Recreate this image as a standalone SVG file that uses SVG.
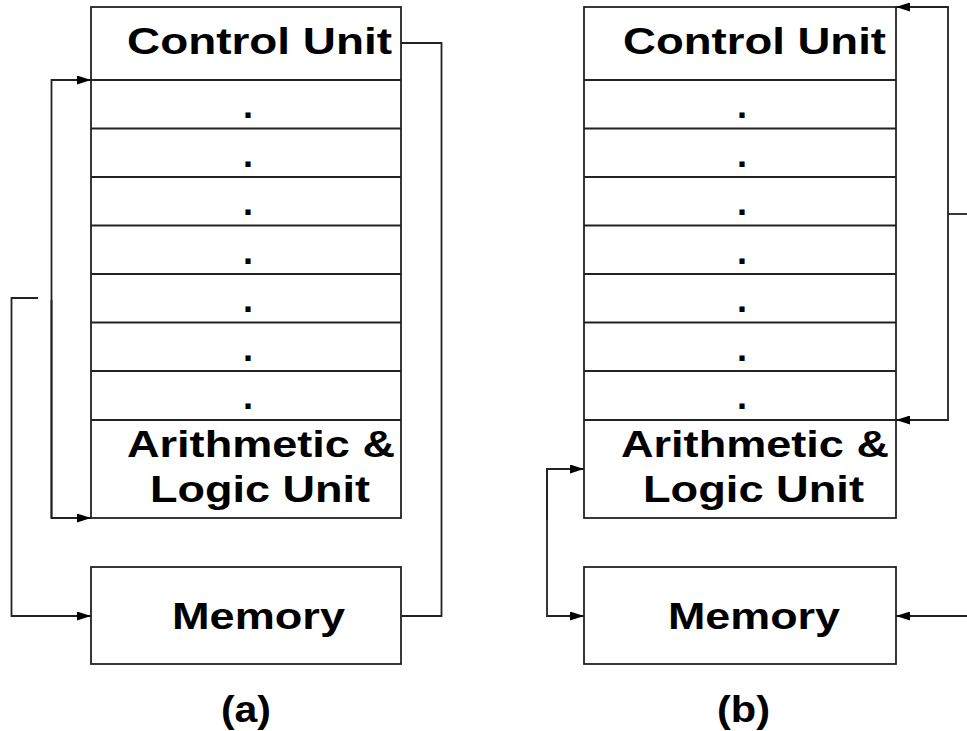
<svg xmlns="http://www.w3.org/2000/svg" width="967" height="731" viewBox="0 0 967 731">
  <style>
    .box { fill: #fff; stroke: #222; stroke-width: 1.8; }
    .sep { stroke: #222; stroke-width: 1.8; }
    .wire { fill: none; stroke: #222; stroke-width: 1.8; }
    .lbl { font-family: "Liberation Sans", Arial, sans-serif; font-weight: bold; font-size: 36px; fill: #000; }
  </style>
  <defs>
    <marker id="arrow" markerWidth="14" markerHeight="9" refX="14" refY="4.5" orient="auto" markerUnits="userSpaceOnUse">
      <path d="M0,0 L14,4.5 L0,9 Z" fill="#000"/>
    </marker>
  </defs>

  <rect width="967" height="731" fill="#fff"/>

  <!-- (a) processor column -->
  <g id="cpu-a">
    <rect class="box" x="91" y="7" width="310" height="511"/>
    <line class="sep" x1="91" y1="80" x2="401" y2="80"/>
    <line class="sep" x1="91" y1="128.5" x2="401" y2="128.5"/>
    <line class="sep" x1="91" y1="177" x2="401" y2="177"/>
    <line class="sep" x1="91" y1="225.5" x2="401" y2="225.5"/>
    <line class="sep" x1="91" y1="274" x2="401" y2="274"/>
    <line class="sep" x1="91" y1="322.5" x2="401" y2="322.5"/>
    <line class="sep" x1="91" y1="371" x2="401" y2="371"/>
    <line class="sep" x1="91" y1="420" x2="401" y2="420"/>
    <text class="lbl" x="127" y="54" textLength="265" lengthAdjust="spacingAndGlyphs">Control Unit</text>
    <text class="lbl" x="243" y="118">.</text>
    <text class="lbl" x="243" y="167">.</text>
    <text class="lbl" x="243" y="215">.</text>
    <text class="lbl" x="243" y="264">.</text>
    <text class="lbl" x="243" y="312">.</text>
    <text class="lbl" x="243" y="361">.</text>
    <text class="lbl" x="243" y="409">.</text>
    <text class="lbl" x="127" y="457" textLength="268" lengthAdjust="spacingAndGlyphs">Arithmetic &amp;</text>
    <text class="lbl" x="150" y="502" textLength="220" lengthAdjust="spacingAndGlyphs">Logic Unit</text>
  </g>

  <g id="memory-a">
    <rect class="box" x="91" y="567" width="310" height="97"/>
    <text class="lbl" x="172" y="629" textLength="173" lengthAdjust="spacingAndGlyphs">Memory</text>
  </g>

  <!-- (b) processor column -->
  <g id="cpu-b">
    <rect class="box" x="584" y="7" width="312" height="511"/>
    <line class="sep" x1="584" y1="80" x2="896" y2="80"/>
    <line class="sep" x1="584" y1="128.5" x2="896" y2="128.5"/>
    <line class="sep" x1="584" y1="177" x2="896" y2="177"/>
    <line class="sep" x1="584" y1="225.5" x2="896" y2="225.5"/>
    <line class="sep" x1="584" y1="274" x2="896" y2="274"/>
    <line class="sep" x1="584" y1="322.5" x2="896" y2="322.5"/>
    <line class="sep" x1="584" y1="371" x2="896" y2="371"/>
    <line class="sep" x1="584" y1="420" x2="896" y2="420"/>
    <text class="lbl" x="623" y="54" textLength="263" lengthAdjust="spacingAndGlyphs">Control Unit</text>
    <text class="lbl" x="737" y="118">.</text>
    <text class="lbl" x="737" y="167">.</text>
    <text class="lbl" x="737" y="215">.</text>
    <text class="lbl" x="737" y="264">.</text>
    <text class="lbl" x="737" y="312">.</text>
    <text class="lbl" x="737" y="361">.</text>
    <text class="lbl" x="737" y="409">.</text>
    <text class="lbl" x="621" y="457" textLength="268" lengthAdjust="spacingAndGlyphs">Arithmetic &amp;</text>
    <text class="lbl" x="643" y="502" textLength="221" lengthAdjust="spacingAndGlyphs">Logic Unit</text>
  </g>

  <g id="memory-b">
    <rect class="box" x="584" y="567" width="312" height="97"/>
    <text class="lbl" x="668" y="629" textLength="172" lengthAdjust="spacingAndGlyphs">Memory</text>
  </g>

  <g id="captions">
    <text class="lbl" x="221" y="722" font-size="30" textLength="50" lengthAdjust="spacingAndGlyphs">(a)</text>
    <text class="lbl" x="717" y="722" font-size="30" textLength="53" lengthAdjust="spacingAndGlyphs">(b)</text>
  </g>

  <g id="connectors">
    <!-- (a) -->
    <path class="wire" d="M401,43 H441.5 V616 H401"/>
    <path class="wire" d="M51.5,518 V80 H91" marker-end="url(#arrow)"/>
    <path class="wire" d="M51.5,300 V518 H91" marker-end="url(#arrow)"/>
    <path class="wire" d="M38,298 H11.5 V616 H91" marker-end="url(#arrow)"/>
    <!-- (b) -->
    <path class="wire" d="M547,520 V469 H584" marker-end="url(#arrow)"/>
    <path class="wire" d="M547,469 V616 H584" marker-end="url(#arrow)"/>
    <path class="wire" d="M948,214 V7 H896" marker-end="url(#arrow)"/>
    <path class="wire" d="M948,214 V420 H896" marker-end="url(#arrow)"/>
    <path class="wire" d="M948,214 H967"/>
    <path class="wire" d="M967,616 H896" marker-end="url(#arrow)"/>
  </g>
</svg>
